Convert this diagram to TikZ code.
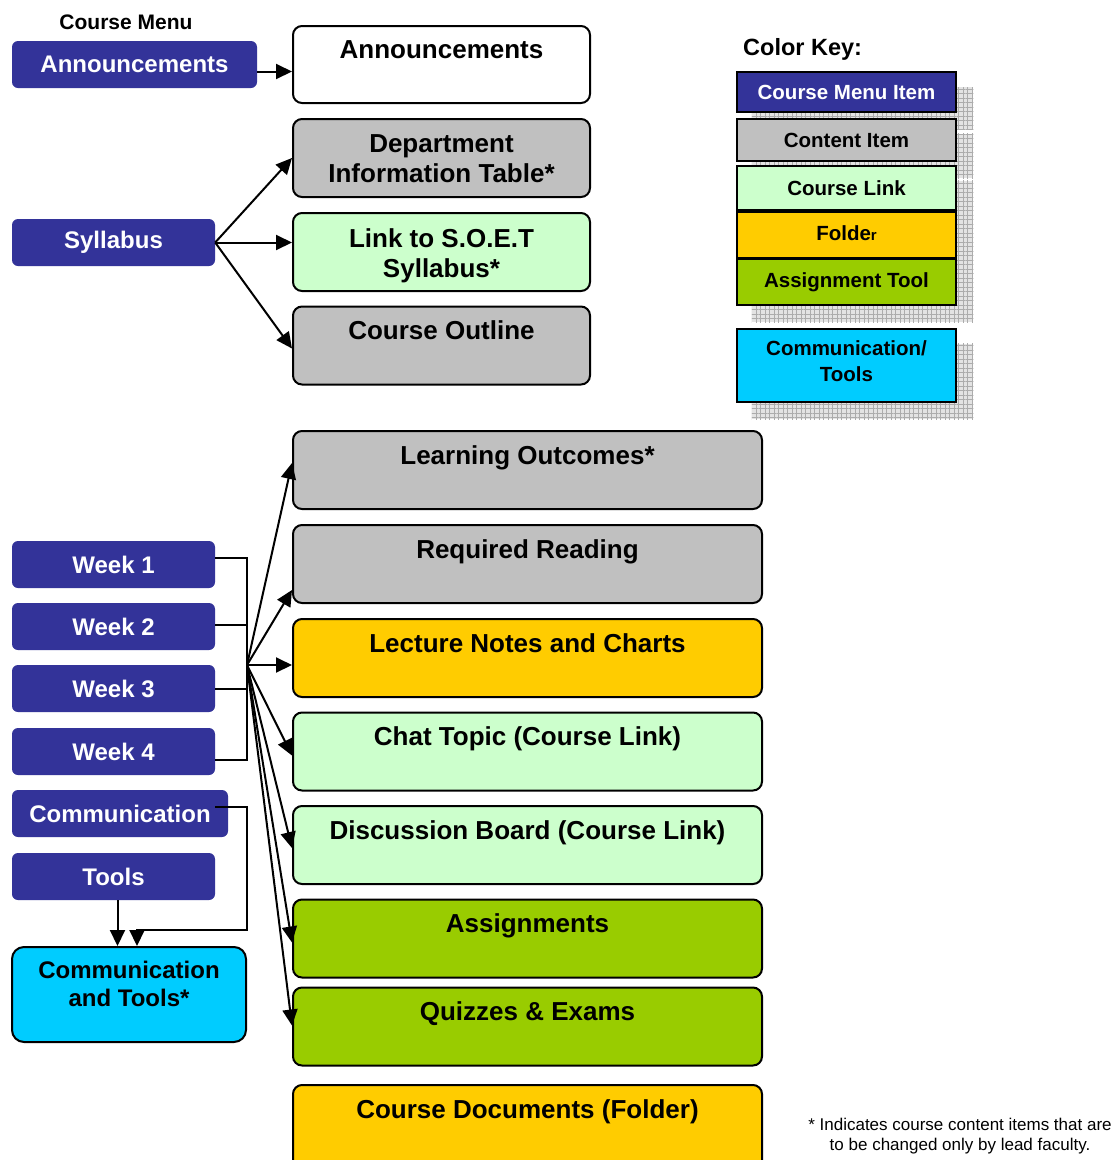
\documentclass[tikz,border=0pt]{standalone}
\usepackage{fontspec}
\setmainfont{Liberation Sans}
\usetikzlibrary{arrows.meta,patterns.meta,backgrounds}
\definecolor{menublue}{HTML}{333399}
\definecolor{cgray}{HTML}{C0C0C0}
\definecolor{clink}{HTML}{CCFFCC}
\definecolor{cfolder}{HTML}{FFCC00}
\definecolor{cassign}{HTML}{99CC00}
\definecolor{ccomm}{HTML}{00CCFF}
\begin{document}
\begin{tikzpicture}[x=1pt,y=-1pt,
  menu/.style={fill=menublue, rounded corners=6pt, text=white, font=\bfseries\fontsize{24}{28}\selectfont, inner sep=0pt, minimum height=47pt},
  cbox/.style={draw=black, line width=2pt, rounded corners=9pt, inner sep=0pt, minimum height=78pt},
  upbox/.style={cbox, minimum width=297pt},
  lowbox/.style={cbox, minimum width=469pt},
  ctext/.style={anchor=north, inner sep=0pt, align=center, font=\bfseries\fontsize{26}{30}\selectfont},
  keybox/.style={draw=black, line width=2.5pt, minimum width=219pt, inner sep=0pt, align=center, font=\bfseries\fontsize{20.5}{26}\selectfont},
  shd/.style={fill=gray!22,
    postaction={pattern={Lines[angle=0,distance=4.5pt,line width=0.8pt]}, pattern color=gray!65},
    postaction={pattern={Lines[angle=90,distance=4.5pt,line width=0.8pt]}, pattern color=gray!65}},
  ln/.style={line width=2pt},
  arr/.style={line width=2pt, -{Triangle[length=16pt,width=15pt]}},
]
\clip (0,0) rectangle (1115,1160);
\begin{scope}[on background layer]
  \fill[white] (0,0) rectangle (1115,1160);
\end{scope}

% titles
\node[anchor=base, inner sep=0pt, font=\bfseries\fontsize{21}{24}\selectfont] (tMenu) at (126,29) {Course Menu};
\node[anchor=base west, inner sep=0pt, font=\bfseries\fontsize{23.5}{26}\selectfont] (tKey) at (743,55) {Color Key:};

% course menu items
\node[menu, minimum width=245pt] (mAnn) at (134.5,64.5) {Announcements};
\node[menu, minimum width=203pt] (mSyl) at (113.5,242.5) {Syllabus};
\node[menu, minimum width=203pt] (w1) at (113.5,564.5) {Week 1};
\node[menu, minimum width=203pt] (w2) at (113.5,626.5) {Week 2};
\node[menu, minimum width=203pt] (w3) at (113.5,688.5) {Week 3};
\node[menu, minimum width=203pt] (w4) at (113.5,751.5) {Week 4};
\node[menu, minimum width=216pt] (mComm) at (120,813.5) {Communication};
\node[menu, minimum width=203pt] (mTools) at (113.5,876.5) {Tools};

% communication and tools box
\node[cbox, fill=ccomm, rounded corners=12pt, minimum width=234pt, minimum height=95pt] (mCT) at (129,994.5) {};
\node[ctext, font=\bfseries\fontsize{24}{28}\selectfont] (tCT) at ([yshift=-15pt]mCT.north) {Communication\\and Tools*};

% upper content boxes
\node[upbox, fill=white, minimum height=77pt] (bAnn) at (441.5,64.5) {};
\node[ctext] (tAnn) at ([yshift=-15pt]bAnn.north) {Announcements};
\node[upbox, fill=cgray] (bDept) at (441.5,158) {};
\node[ctext] (tDept) at ([yshift=-16pt]bDept.north) {Department\\Information Table*};
\node[upbox, fill=clink] (bLink) at (441.5,252) {};
\node[ctext] (tLink) at ([yshift=-16pt]bLink.north) {Link to S.O.E.T\\Syllabus*};
\node[upbox, fill=cgray] (bOut) at (441.5,345.5) {};
\node[ctext] (tOut) at ([yshift=-15pt]bOut.north) {Course Outline};

% lower content boxes
\node[lowbox, fill=cgray] (bLO) at (527.5,470) {};
\node[ctext] (tLO) at ([yshift=-15pt]bLO.north) {Learning Outcomes*};
\node[lowbox, fill=cgray] (bRR) at (527.5,564) {};
\node[ctext] (tRR) at ([yshift=-15pt]bRR.north) {Required Reading};
\node[lowbox, fill=cfolder] (bLN) at (527.5,658) {};
\node[ctext] (tLN) at ([yshift=-15pt]bLN.north) {Lecture Notes and Charts};
\node[lowbox, fill=clink] (bChat) at (527.5,751.5) {};
\node[ctext] (tChat) at ([yshift=-15pt]bChat.north) {Chat Topic (Course Link)};
\node[lowbox, fill=clink] (bDB) at (527.5,845) {};
\node[ctext] (tDB) at ([yshift=-15pt]bDB.north) {Discussion Board (Course Link)};
\node[lowbox, fill=cassign] (bAsg) at (527.5,938.5) {};
\node[ctext] (tAsg) at ([yshift=-15pt]bAsg.north) {Assignments};
\node[lowbox, fill=cassign] (bQuiz) at (527.5,1026.5) {};
\node[ctext] (tQuiz) at ([yshift=-15pt]bQuiz.north) {Quizzes \& Exams};
\node[lowbox, fill=cfolder, minimum height=95pt] (bDoc) at (527.5,1132.5) {};
\node[ctext] (tDoc) at ([yshift=-15pt]bDoc.north) {Course Documents (Folder)};

% colour key
\node[keybox, fill=menublue, text=white, minimum height=40pt] (k1) at (846.5,92) {Course Menu Item};
\node[keybox, fill=cgray, minimum height=42pt] (k2) at (846.5,140) {Content Item};
\node[keybox, fill=clink, minimum height=44pt] (k3) at (846.5,188) {Course Link};
\node[keybox, fill=cfolder, minimum height=46pt, text depth=4pt] (k4) at (846.5,235) {Folde{\fontsize{15}{15}\selectfont r}};
\node[keybox, fill=cassign, minimum height=46pt] (k5) at (846.5,282) {Assignment Tool};
\node[keybox, fill=ccomm, minimum height=73pt, text depth=8pt] (k6) at (846.5,365.5) {Communication/\\Tools};
\begin{scope}[on background layer]
  \foreach \k in {k1,k2,k3,k4,k5,k6}
    \path[shd] ([shift={(16,16)}]\k.south west) rectangle ([shift={(16,16)}]\k.north east);
\end{scope}

% footnote
\node[anchor=north, inner sep=0pt, align=center, font=\fontsize{17}{20}\selectfont] (note) at (960,1118) {* Indicates course content items that are\\to be changed only by lead faculty.};

% connectors: announcements and syllabus
\draw[arr] ([yshift=-7pt]mAnn.east) -- ([yshift=-7pt]mAnn.east -| bAnn.west);
\draw[arr] (mSyl.east) -- (bDept.west);
\draw[arr] (mSyl.east) -- (mSyl.east -| bLink.west);
\draw[arr] (mSyl.east) -- ([yshift=-3pt]bOut.west);

% weeks bus
\coordinate (hub) at (247,665);
\draw[ln] ([yshift=7pt]w1.east) -| ([yshift=-8pt]w4.east -| hub) -- ([yshift=-8pt]w4.east);
\draw[ln] ([yshift=2pt]w2.east) -- ([yshift=2pt]w2.east -| hub);
\draw[ln] (w3.east) -- (w3.east -| hub);
\draw[arr] (hub) -- ([yshift=7pt]bLO.west);
\draw[arr] (hub) -- ([yshift=-26pt]bRR.west);
\draw[arr] (hub) -- (hub -| bLN.west);
\draw[arr] (hub) -- ([yshift=-4pt]bChat.west);
\draw[arr] (hub) -- ([yshift=-3pt]bDB.west);
\draw[arr] (hub) -- ([yshift=-4pt]bAsg.west);
\draw[arr] (hub) -- ([yshift=1pt]bQuiz.west);

% communication / tools
\coordinate (cc) at (247,930);
\draw[arr] ([shift={(-13pt,7pt)}]mComm.east) -| (cc) -| ([xshift=8pt]mCT.north);
\draw[arr] ([xshift=4pt]mTools.south) -- ([xshift=4pt]mTools.south |- mCT.north);
\end{tikzpicture}
\end{document}
